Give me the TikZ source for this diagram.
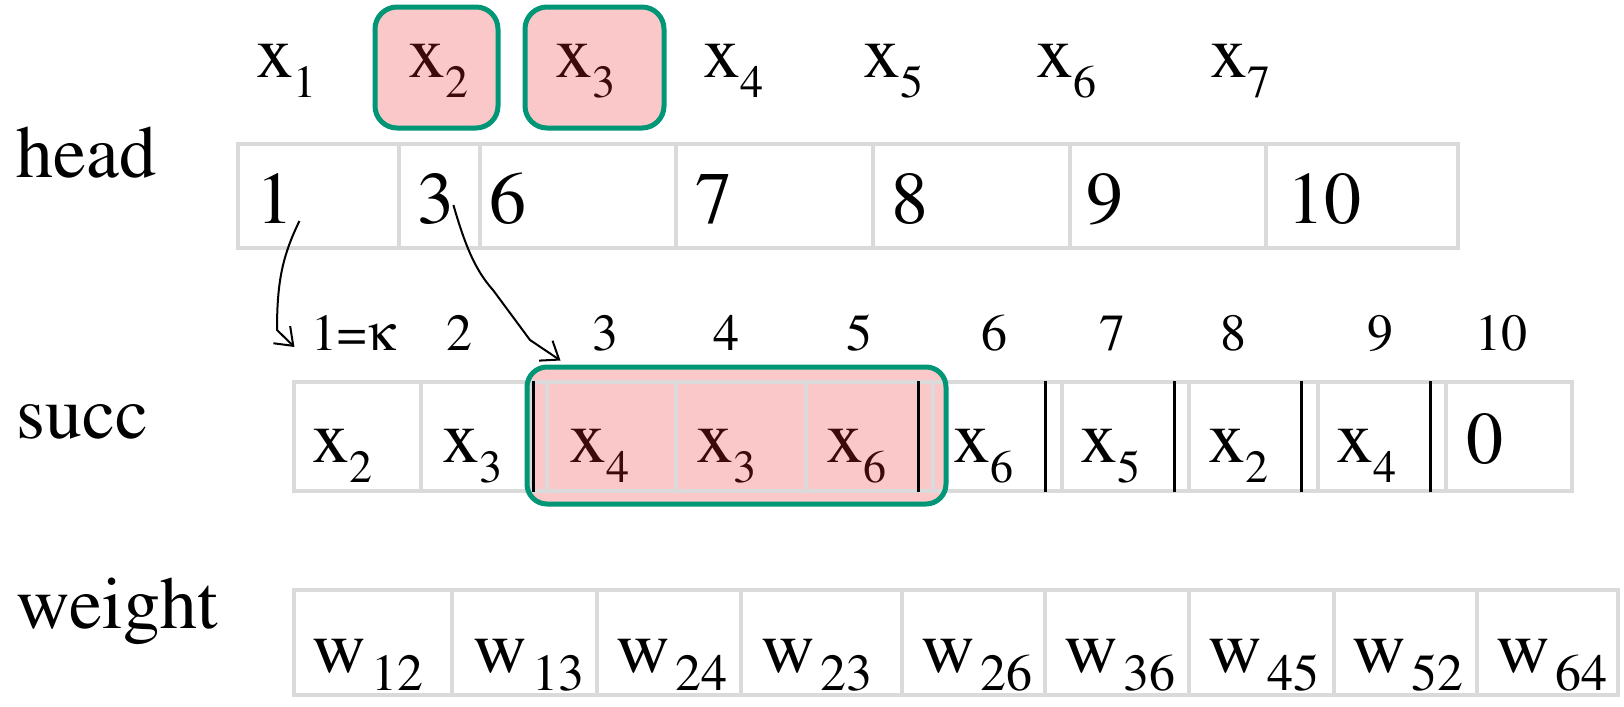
\documentclass[tikz,border=0pt]{standalone}
\usepackage[T1]{fontenc}
\usepackage{mathptmx}
\usepackage[Symbol]{upgreek}
\usetikzlibrary{calc, arrows.meta}

\definecolor{boxgreen}{RGB}{0,150,118}
\definecolor{cellgrey}{RGB}{218,218,218}
\definecolor{hlpink}{RGB}{250,200,200}
\definecolor{hltext}{RGB}{60,10,10}

\newcommand{\bigtxt}{\fontsize{37}{40}\selectfont}
\newcommand{\smalltxt}{\fontsize{26}{28}\selectfont}
\newcommand{\vx}[1]{x\raisebox{-10pt}{\fontsize{23}{24}\selectfont #1}}
\newcommand{\vw}[1]{w\hspace{3pt}\raisebox{-9pt}{\fontsize{26}{28}\selectfont #1}}

\tikzset{
  lbl/.style={anchor=base west, inner sep=0pt, font=\bigtxt},
  num/.style={anchor=base, inner sep=0pt, font=\bigtxt},
  idx/.style={anchor=base, inner sep=0pt, font=\smalltxt},
  cellline/.style={draw=cellgrey, line width=2pt},
  sepline/.style={draw=black, line width=1.5pt},
  hlbox/.style={draw=boxgreen, line width=2.5pt, fill=hlpink, rounded corners=11pt, inner sep=0pt},
  link/.style={draw=black, line width=1pt, -{Straight Barb[length=8pt, width=12pt]}},
}

\begin{document}
\begin{tikzpicture}[x=0.5pt, y=-0.5pt]
\useasboundingbox (0,0) rectangle (1624,707);

% top row
\node[hlbox, minimum width=61.5pt, minimum height=60.5pt] (bx2) at (436.5,67.5) {};
\node[hlbox, minimum width=69.5pt, minimum height=60.5pt] (bx3) at (594.5,67.5) {};
\node[lbl] (t1) at (256,77) {\vx{1}};
\node[lbl, text=hltext] (t2) at (408,77) {\vx{2}};
\node[lbl, text=hltext] (t3) at (555,77) {\vx{3}};
\node[lbl] (t4) at (703,77) {\vx{4}};
\node[lbl] (t5) at (863,77) {\vx{5}};
\node[lbl] (t6) at (1036,77) {\vx{6}};
\node[lbl] (t7) at (1210,77) {\vx{7}};

% head
\node[lbl] (headlbl) at (16,177) {head};
\draw[cellline] (238,144) rectangle (1458,248);
\draw[cellline] (399,144)--(399,248);
\draw[cellline] (480,144)--(480,248);
\draw[cellline] (676,144)--(676,248);
\draw[cellline] (873,144)--(873,248);
\draw[cellline] (1070,144)--(1070,248);
\draw[cellline] (1266,144)--(1266,248);
\node[num] (h1) at (274.5,223) {1};
\node[num] (h2) at (435.5,223) {3};
\node[num] (h3) at (508,223) {6};
\node[num] (h4) at (714,223) {7};
\node[num] (h5) at (910,223) {8};
\node[num] (h6) at (1105,223) {9};
\node[num] (h7) at (1324,223) {10};

% indices
\node[idx] (k1) at (354,350) {1=$\upkappa$};
\node[idx] (k2) at (459,350) {2};
\node[idx] (k3) at (605,350) {3};
\node[idx] (k4) at (726,350) {4};
\node[idx] (k5) at (859,350) {5};
\node[idx] (k6) at (994,350) {6};
\node[idx] (k7) at (1112,350) {7};
\node[idx] (k8) at (1233,350) {8};
\node[idx] (k9) at (1380,350) {9};
\node[idx] (k10) at (1501,350) {10};

% succ
\node[lbl] (succlbl) at (16,438) {succ};
\node[hlbox, draw=none, minimum width=209.5pt, minimum height=68.5pt, rounded corners=10pt] (grpbg) at (736.5,435.5) {};
\draw[cellline] (294,382) rectangle (1572,491);
\draw[cellline] (421,382)--(421,491);
\draw[cellline] (531,382)--(531,491);
\draw[cellline] (547,382)--(547,491);
\draw[cellline] (676,382)--(676,491);
\draw[cellline] (806,382)--(806,491);
\draw[cellline] (933,382)--(933,491);
\draw[cellline] (1062,382)--(1062,491);
\draw[cellline] (1189,382)--(1189,491);
\draw[cellline] (1318,382)--(1318,491);
\draw[cellline] (1446,382)--(1446,491);
\draw[sepline] (533,381)--(533,492);
\draw[sepline] (918,381)--(918,492);
\draw[sepline] (1045,381)--(1045,492);
\draw[sepline] (1174,381)--(1174,492);
\draw[sepline] (1301,381)--(1301,492);
\draw[sepline] (1430,381)--(1430,492);
\node[lbl] (s1) at (312,462) {\vx{2}};
\node[lbl] (s2) at (442,462) {\vx{3}};
\node[lbl, text=hltext] (s3) at (569,462) {\vx{4}};
\node[lbl, text=hltext] (s4) at (696,462) {\vx{3}};
\node[lbl, text=hltext] (s5) at (826,462) {\vx{6}};
\node[lbl] (s6) at (953,462) {\vx{6}};
\node[lbl] (s7) at (1080,462) {\vx{5}};
\node[lbl] (s8) at (1208,462) {\vx{2}};
\node[lbl] (s9) at (1336,462) {\vx{4}};
\node[lbl] (s10) at (1466,463) {0};
\node[hlbox, fill=none, minimum width=209.5pt, minimum height=68.5pt, rounded corners=10pt] (grp) at (736.5,435.5) {};

% weight
\node[lbl] (wlbl) at (16,628) {weight};
\draw[cellline] (294,590) rectangle (1618,695);
\draw[cellline] (452,590)--(452,695);
\draw[cellline] (597,590)--(597,695);
\draw[cellline] (741,590)--(741,695);
\draw[cellline] (902,590)--(902,695);
\draw[cellline] (1045,590)--(1045,695);
\draw[cellline] (1189,590)--(1189,695);
\draw[cellline] (1334,590)--(1334,695);
\draw[cellline] (1477,590)--(1477,695);
\node[lbl] (w1) at (312,672) {\vw{12}};
\node[lbl] (w2) at (473,672) {\vw{13}};
\node[lbl] (w3) at (616,672) {\vw{24}};
\node[lbl] (w4) at (761,672) {\vw{23}};
\node[lbl] (w5) at (921,672) {\vw{26}};
\node[lbl] (w6) at (1064,672) {\vw{36}};
\node[lbl] (w7) at (1208,672) {\vw{45}};
\node[lbl] (w8) at (1352,672) {\vw{52}};
\node[lbl] (w9) at (1496,672) {\vw{64}};

% links
\draw[link] ($(h1.base east)+(6,-2)$) .. controls (283,255) and (277,280) .. (277,330) -- ($(k1.base west)+(-17,-3)$);
\draw[link] ($(h2.base east)+(-1,-18)$) .. controls (465,245) and (475,270) .. (493,290) -- (530,340) -- ($(grp.north west)+(36,-4)$);
\end{tikzpicture}
\end{document}
